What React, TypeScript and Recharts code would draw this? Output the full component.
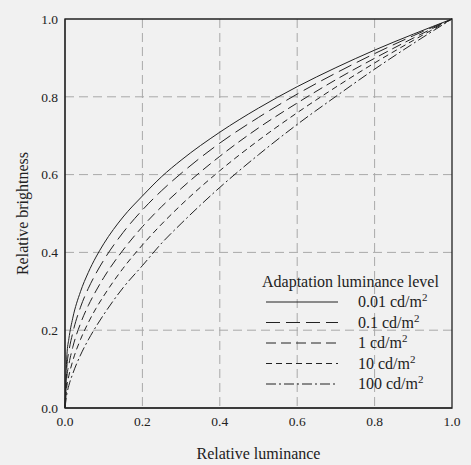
import React from 'react';
import {
    LineChart,
    Line,
    XAxis,
    YAxis,
    CartesianGrid,
    ReferenceArea,
    Label
} from 'recharts';

// relative luminance (x) sample points
const luminance = [0, 0.005, 0.01, 0.02, 0.04, 0.06, 0.08, 0.1, 0.15, 0.2, 0.25, 0.3, 0.4, 0.5, 0.6, 0.7, 0.8, 0.9, 1.0];

// relative brightness
const b001 = [0, 0.137, 0.178, 0.231, 0.299, 0.348, 0.388, 0.422, 0.491, 0.545, 0.595, 0.637, 0.709, 0.771, 0.826, 0.875, 0.920, 0.961, 1];
const b01 = [0, 0.108, 0.145, 0.193, 0.259, 0.307, 0.346, 0.380, 0.451, 0.509, 0.559, 0.603, 0.681, 0.747, 0.807, 0.861, 0.911, 0.957, 1];
const b1 = [0, 0.081, 0.112, 0.156, 0.217, 0.263, 0.301, 0.335, 0.406, 0.466, 0.518, 0.564, 0.647, 0.720, 0.784, 0.844, 0.899, 0.951, 1];
const b10 = [0, 0.057, 0.083, 0.121, 0.176, 0.219, 0.256, 0.288, 0.359, 0.419, 0.473, 0.522, 0.610, 0.688, 0.759, 0.825, 0.887, 0.945, 1];
const b100 = [0, 0.037, 0.058, 0.088, 0.136, 0.175, 0.209, 0.240, 0.309, 0.366, 0.424, 0.474, 0.567, 0.651, 0.729, 0.801, 0.871, 0.937, 1];

const levels = ['0.01', '0.1', '1', '10', '100'];
const dashes = ['', '14 6', '10 5', '6 4', '10 3 2 3'];
const seriesValues = [b001, b01, b1, b10, b100];

const ticks = [0, 0.2, 0.4, 0.6, 0.8, 1.0];

const data = luminance.map((x, i) => {
    const row: any = { x };
    seriesValues.forEach((s, k) => { row[`s${k}`] = s[i]; });
    return row;
});

const FONT = '"Liberation Serif", "Times New Roman", serif';
const INK = '#222';

const LegendBox = () => (
    <svg width={200} height={130} style={{ position: 'absolute', left: 258, top: 268, overflow: 'visible' }}>
        <text x={4} y={19} fontFamily={FONT} fontSize={16} fill={INK}>Adaptation luminance level</text>
        {levels.map((lv, k) => {
            const cy = 34 + k * 20.5;
            return (
                <g key={lv}>
                    <line x1={8} x2={80} y1={cy} y2={cy} stroke={INK} strokeWidth={1} strokeDasharray={dashes[k] || undefined} />
                    <text x={100} y={cy + 5} fontFamily={FONT} fontSize={16} fill={INK}>
                        {lv} cd/m<tspan dy={-6} fontSize={11}>2</tspan>
                    </text>
                </g>
            );
        })}
    </svg>
);

const YTitle = (props: any) => {
    const vb = props.viewBox || { x: 0, y: 19, width: 65, height: 389 };
    const cx = vb.x + 22;
    const cy = vb.y + vb.height / 2;
    return (
        <text x={cx} y={cy} transform={`rotate(-90 ${cx} ${cy})`} textAnchor="middle" dominantBaseline="central"
            fontFamily={FONT} fontSize={16} fill={INK}>
            Relative brightness
        </text>
    );
};

export default function App() {
    return (
        <div style={{ position: 'relative', width: 471, height: 465, background: '#f1f1f1' }}>
            <style>{`body{margin:0;background:#f1f1f1}`}</style>
            <LineChart
                width={471}
                height={465}
                data={data}
                margin={{ top: 19, right: 19, bottom: 0, left: 0 }}
            >
                <CartesianGrid
                    stroke="#a9a9a9"
                    strokeDasharray="9 5"
                    horizontalValues={[0.2, 0.4, 0.6, 0.8]}
                    verticalValues={[0.2, 0.4, 0.6, 0.8]}
                />
                <XAxis
                    dataKey="x"
                    type="number"
                    domain={[0, 1]}
                    ticks={ticks}
                    tickFormatter={(v) => v.toFixed(1)}
                    tickLine={false}
                    tickSize={0}
                    tickMargin={8}
                    height={57}
                    stroke={INK}
                    tick={{ fontFamily: FONT, fontSize: 13.5, fill: INK }}
                >
                    <Label value="Relative luminance" position="insideBottom" offset={6} style={{ fontFamily: FONT, fontSize: 16, fill: INK }} />
                </XAxis>
                <YAxis
                    type="number"
                    domain={[0, 1]}
                    ticks={ticks}
                    tickFormatter={(v) => v.toFixed(1)}
                    tickLine={false}
                    tickSize={0}
                    tickMargin={7}
                    width={65}
                    stroke={INK}
                    tick={{ fontFamily: FONT, fontSize: 13.5, fill: INK }}
                >
                    <Label content={<YTitle />} />
                </YAxis>
                <ReferenceArea x1={0} x2={1} y1={0} y2={1} fill="none" stroke={INK} strokeWidth={1.3} ifOverflow="visible" />
                {seriesValues.map((_, k) => (
                    <Line
                        key={k}
                        dataKey={`s${k}`}
                        type="monotone"
                        stroke={INK}
                        strokeWidth={1}
                        strokeDasharray={dashes[k] || undefined}
                        dot={false}
                        isAnimationActive={false}
                    />
                ))}
            </LineChart>
            <LegendBox />
        </div>
    );
}
